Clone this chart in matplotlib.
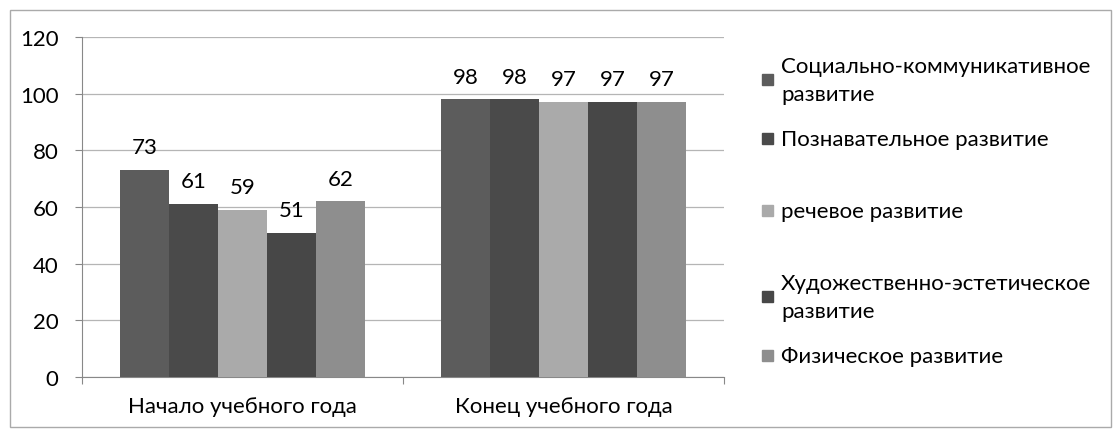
import numpy as np
import matplotlib.pyplot as plt
from matplotlib.patches import Rectangle

# данные
categories = ["Начало учебного года", "Конец учебного года"]
series = ["Социально-коммуникативное\nразвитие", "Познавательное развитие",
          "речевое развитие", "Художественно-эстетическое\nразвитие",
          "Физическое развитие"]
soc = [73, 98]
poz = [61, 98]
rech = [59, 97]
hud = [51, 97]
fiz = [62, 97]
values = [soc, poz, rech, hud, fiz]
colors = ["#5c5c5c", "#4a4a4a", "#aaaaaa", "#474747", "#8e8e8e"]

plt.rcParams['font.family'] = ['Lato', 'DejaVu Sans']
fs = 16

fig = plt.figure(figsize=(11.13, 4.35), dpi=100)
ax = fig.add_axes([82/1113, 1-378/435, 642/1113, 340/435])

x = np.arange(len(categories))
w = 0.763/5
for i in range(5):
    pos = x - 0.763/2 + w*(i+0.5)
    bars = ax.bar(pos, values[i], width=w, color=colors[i], zorder=3)
    for b, v in zip(bars, values[i]):
        ax.text(b.get_x()+b.get_width()/2, v+4.5, str(v), ha='center', va='bottom', fontsize=fs)

ax.set_xlim(-0.5, 1.5)
ax.set_ylim(0, 120)
ax.set_yticks(range(0, 121, 20))
ax.yaxis.grid(True, color="#b5b5b5", lw=0.9, zorder=0)
ax.set_xticks([-0.5, 0.5, 1.5], minor=False)
ax.set_xticklabels([])
ax.set_xticks(x, minor=True)
ax.set_xticklabels(categories, minor=True, fontsize=fs)
ax.tick_params(axis='x', which='minor', length=0, pad=14)
ax.tick_params(axis='x', which='major', length=5, color="#888888")
ax.tick_params(axis='y', length=5, color="#888888", labelsize=fs, pad=12)
for s in ['top', 'right']:
    ax.spines[s].set_visible(False)
for s in ['left', 'bottom']:
    ax.spines[s].set_color("#888888")

# легенда вручную
leg_y = [81, 140, 212, 298, 357]
for i in range(5):
    yy = 1 - leg_y[i]/435
    fig.patches.append(Rectangle((762/1113, yy-5/435), 11/1113, 11/435,
                                 transform=fig.transFigure, color=colors[i]))
    fig.text(781/1113, yy, series[i], va='center', ha='left', fontsize=fs, linespacing=1.55)

fig.patches.append(Rectangle((10/1113, 1-428/435), 1101/1113, 417/435, transform=fig.transFigure,
                             fill=False, edgecolor="#aaaaaa", lw=1))

plt.savefig("out.png", dpi=100)
